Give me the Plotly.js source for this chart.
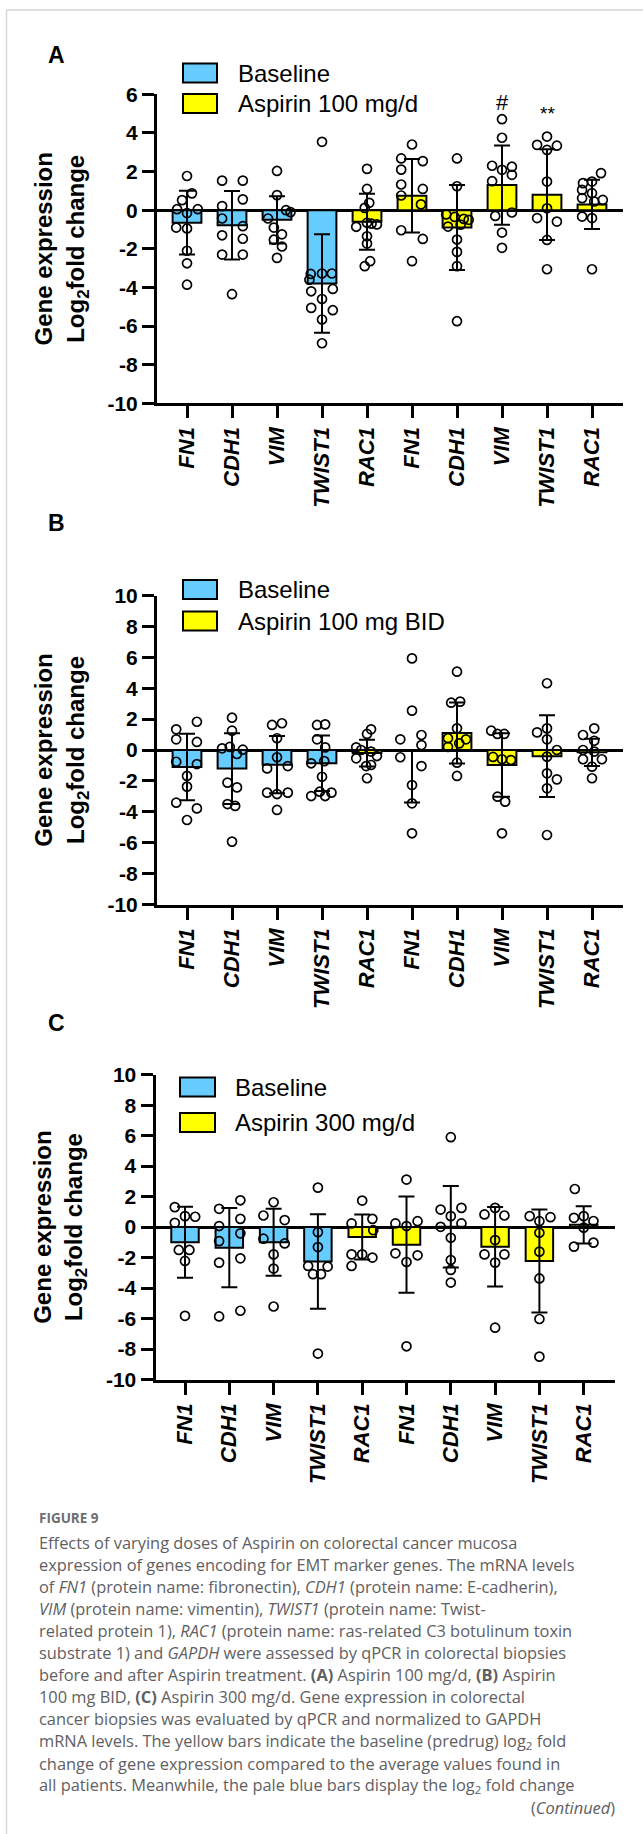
<!DOCTYPE html>
<html>
<head>
<meta charset="utf-8">
<script src="https://cdn.plot.ly/plotly-3.0.1.min.js"></script>
<style>
  html, body { margin: 0; padding: 0; background: #ffffff; }
  #chart { width: 643px; height: 1834px; }
</style>
</head>
<body>
<div id="chart"></div>
<script>
// ---------------- DATA ----------------
const categories = ['FN1', 'CDH1', 'VIM', 'TWIST1', 'RAC1', 'FN1', 'CDH1', 'VIM', 'TWIST1', 'RAC1'];
// colour group shown by each bar in the original figure
const barGroup = ['Baseline', 'Baseline', 'Baseline', 'Baseline', 'Aspirin', 'Aspirin', 'Aspirin', 'Aspirin', 'Aspirin', 'Aspirin'];

const legendA = ['Baseline', 'Aspirin 100 mg/d'];
const legendB = ['Baseline', 'Aspirin 100 mg BID'];
const legendC = ['Baseline', 'Aspirin 300 mg/d'];

const yTicksA = [-10, -8, -6, -4, -2, 0, 2, 4, 6];
const yTicksBC = [-10, -8, -6, -4, -2, 0, 2, 4, 6, 8, 10];

// Panel A: Aspirin 100 mg/d
const meanA = [-0.65, -0.78, -0.5, -3.8, -0.6, 0.75, -0.9, 1.3, 0.8, 0.3];
const errPlusA = [1.65, 1.77, 1.22, 2.55, 1.45, 1.9, 2.2, 2.05, 2.35, 1.28];
const errMinusA = [1.65, 1.77, 1.22, 2.55, 1.45, 1.9, 2.2, 2.05, 2.35, 1.28];
const pointsA = [
  [1.77, 0.87, 0.52, 0.05, -0.15, 0.05, -0.9, -0.95, -2.1, -2.75, -3.86],
  [1.53, 1.53, 0.21, 0.56, -0.43, -0.83, -1.3, -1.48, -2.3, -2.3, -4.35],
  [2.03, 0.78, 0.0, -0.1, -0.43, -0.9, -1.25, -1.53, -1.88, -2.47],
  [3.54, -3.3, -3.28, -3.28, -3.6, -4.2, -4.08, -4.6, -5.06, -5.18, -5.66, -6.89],
  [2.14, 1.1, 0.38, 0.12, -0.65, -0.86, -0.74, -0.7, -1.35, -1.73, -2.64, -2.9],
  [3.4, 2.68, 2.54, 2.1, 1.33, 1.1, 0.76, 0.3, -1.04, -1.49, -2.64],
  [2.68, 1.24, -0.22, -0.35, -0.45, -0.5, -0.85, -0.75, -1.52, -2.16, -2.9, -5.75],
  [4.71, 3.75, 2.3, 2.25, 2.09, 1.83, 1.5, -0.12, -0.3, -1.16, -1.95],
  [3.81, 3.38, 3.34, 3.12, 1.48, 0.1, -0.41, -0.59, -1.54, -3.06],
  [1.92, 1.4, 1.48, 1.05, 0.88, 0.62, 0.53, 0.45, -0.33, -0.41, -3.06]
];
const jitterA = [
  [0, 0.11, -0.11, -0.22, 0, 0.24, -0.24, 0, 0, 0, 0],
  [-0.22, 0.24, -0.22, 0.24, -0.22, 0.24, -0.22, 0.24, -0.22, 0.24, 0],
  [0, 0, 0.2, 0.3, -0.2, -0.07, 0.11, -0.07, 0.11, 0],
  [0, -0.25, 0, 0.22, -0.28, -0.24, 0.24, 0, -0.24, 0.24, 0, 0],
  [0, 0, 0.05, -0.05, 0, -0.24, 0.22, 0.1, 0, 0, 0.07, -0.05],
  [0, -0.24, 0.24, -0.24, -0.24, 0.24, -0.24, 0.2, -0.24, 0.24, 0],
  [0, 0, -0.24, -0.05, 0.15, 0.26, -0.2, 0.08, 0, 0, 0, 0],
  [0, 0, -0.22, 0.22, 0, 0.22, -0.22, 0.22, -0.15, 0, 0],
  [0, -0.22, 0.22, 0, 0, 0, -0.22, 0.22, 0, 0],
  [0.2, -0.2, 0, -0.22, 0, -0.22, 0.24, 0.05, -0.22, 0, 0]
];
const signifA = [{cat: 7, y: 5.6, text: '#'}, {cat: 8, y: 5.0, text: '**'}];

// Panel B: Aspirin 100 mg BID
const meanB = [-1.1, -1.2, -0.95, -0.86, -0.2, -0.05, 1.1, -0.97, -0.4, -0.15];
const errPlusB = [2.15, 2.29, 1.85, 1.8, 0.87, 0, 1.97, 2.05, 2.65, 0.88];
const errMinusB = [2.15, 2.29, 1.85, 1.8, 0.87, 3.35, 1.97, 2.05, 2.65, 0.88];
const pointsB = [
  [1.83, 1.34, 0.69, 0.52, -0.76, -0.91, -1.68, -2.37, -3.41, -3.78, -4.53],
  [2.09, 1.25, 0.11, 0.2, -0.26, 0.02, -2.11, -2.42, -3.5, -3.62, -5.93],
  [1.62, 1.73, 0.76, -0.47, -1.19, -1.04, -2.76, -2.85, -2.76, -3.88],
  [1.62, 1.66, 0.69, 0.17, -0.72, -0.86, -1.73, -2.98, -2.7, -2.98, -2.76],
  [1.34, 1.04, 0.17, 0.0, -0.1, -0.39, -0.54, -0.97, -1.04, -1.83],
  [5.93, 2.55, 0.69, 0.97, 0.32, -0.47, -1.04, -2.27, -3.45, -5.39],
  [5.07, 3.06, 3.13, 1.4, 0.76, 0.43, 0.69, 0.2, -0.82, -1.68],
  [1.25, 1.04, 1.04, -0.45, -0.6, -0.65, -3.02, -3.34, -5.39],
  [4.32, 1.14, 1.4, 0.69, 0.0, -0.43, -1.51, -1.9, -2.48, -5.5],
  [1.4, 0.97, 0.6, 0.0, -0.1, -0.6, -0.6, -1.08, -1.83]
];
const jitterB = [
  [0.22, -0.24, -0.24, 0.22, -0.24, 0.22, 0, 0, -0.24, 0.22, 0],
  [0, 0, -0.22, -0.05, 0.11, 0.24, -0.1, 0.11, -0.1, 0.07, 0],
  [-0.11, 0.11, 0, 0, -0.22, 0.24, -0.22, 0, 0.24, 0],
  [-0.11, 0.07, -0.11, 0.07, 0.05, -0.24, 0, -0.24, -0.05, 0.07, 0.21],
  [0.09, 0, -0.24, -0.13, 0.09, 0.22, -0.24, 0.09, -0.02, 0],
  [0, 0, -0.26, 0.21, 0.21, -0.26, 0.21, 0, 0, 0],
  [0, -0.13, 0.07, 0, -0.2, 0.05, 0.2, -0.2, 0, 0],
  [-0.24, -0.1, 0.05, -0.2, 0, 0.2, -0.1, 0.07, 0],
  [0, -0.22, 0, 0, 0.22, 0, 0, 0.22, 0, 0],
  [0.05, -0.2, 0.05, -0.2, 0.05, -0.2, 0.22, 0, 0]
];

// Panel C: Aspirin 300 mg/d
const meanC = [-1.0, -1.35, -1.0, -2.25, -0.65, -1.15, 0.02, -1.29, -2.22, 0.15];
const errPlusC = [2.33, 2.6, 2.2, 3.1, 1.48, 3.16, 2.67, 2.61, 3.38, 1.22];
const errMinusC = [2.33, 2.6, 2.2, 3.1, 1.48, 3.16, 2.67, 2.61, 3.38, 1.22];
const pointsC = [
  [1.31, 0.28, 0.72, 0.68, -1.5, -1.5, -2.22, -5.82],
  [1.2, 1.76, 0.54, 0.07, -0.41, -0.92, -2.05, -2.33, -5.86, -5.49],
  [1.63, 0.76, 0.46, -0.76, -1.07, -1.79, -2.72, -5.21],
  [2.59, -0.33, -1.31, -2.55, -2.59, -3.09, -3.09, -8.3],
  [1.74, 0.54, 0.24, -0.2, -1.79, -1.79, -2.0, -2.55],
  [3.12, 0.24, 0.07, 0.39, -1.72, -1.85, -2.29, -7.82],
  [5.9, 1.15, 1.26, 0.72, 0.02, 0.24, -0.7, -2.16, -2.81, -3.64],
  [1.26, 0.83, 0.76, -0.85, -1.79, -1.79, -2.33, -6.6],
  [0.72, 0.65, 0.39, -0.37, -1.61, -3.37, -6.03, -8.5],
  [2.5, 0.61, 0.72, 0.4, -0.04, -1.28, -1.02]
];
const jitterC = [
  [-0.23, -0.23, 0, 0.23, -0.14, 0.1, 0, 0],
  [-0.23, 0.25, 0.25, -0.23, 0.25, -0.23, 0.25, -0.23, -0.23, 0.25],
  [0, -0.23, 0.25, -0.23, 0.25, 0, 0, 0],
  [0, 0, 0, -0.22, 0.22, -0.11, 0.07, 0],
  [0, 0.23, -0.24, 0.25, -0.24, 0, 0.23, -0.24],
  [0, -0.25, 0, 0.25, -0.25, 0.25, 0, 0],
  [0, -0.23, 0.24, 0, -0.23, 0.24, 0, 0, 0, 0],
  [0, -0.24, 0.21, 0, -0.24, 0.21, 0, 0],
  [-0.22, 0.25, 0, 0, 0, 0, 0, 0],
  [-0.2, -0.22, 0, 0.22, 0, -0.22, 0.22]
];

const figureLabel = 'FIGURE 9';
const captionLines = [
  'Effects of varying doses of Aspirin on colorectal cancer mucosa',
  'expression of genes encoding for EMT marker genes. The mRNA levels',
  'of <i>FN1</i> (protein name: fibronectin), <i>CDH1</i> (protein name: E-cadherin),',
  '<i>VIM</i> (protein name: vimentin), <i>TWIST1</i> (protein name: Twist-',
  'related protein 1), <i>RAC1</i> (protein name: ras-related C3 botulinum toxin',
  'substrate 1) and <i>GAPDH</i> were assessed by qPCR in colorectal biopsies',
  'before and after Aspirin treatment. <b>(A)</b> Aspirin 100 mg/d, <b>(B)</b> Aspirin',
  '100 mg BID, <b>(C)</b> Aspirin 300 mg/d. Gene expression in colorectal',
  'cancer biopsies was evaluated by qPCR and normalized to GAPDH',
  'mRNA levels. The yellow bars indicate the baseline (predrug) log<sub>2</sub> fold',
  'change of gene expression compared to the average values found in',
  'all patients. Meanwhile, the pale blue bars display the log<sub>2</sub> fold change'
];
const captionEnd = '(<i>Continued</i>)';

// ---------------- STYLE / LAYOUT ----------------
const W = 643, H = 1834;
const px = x => x / W;
const py = y => 1 - y / H;
const FONT = 'Liberation Sans, Arial, Helvetica, sans-serif';
const colors = {Baseline: '#66CCFF', Aspirin: '#FFFF00'};

const panels = [
  {id: 'A', mean: meanA, ep: errPlusA, em: errMinusA, pts: pointsA, jit: jitterA, legend: legendA, yticks: yTicksA,
   yrange: [-10, 6], xpx: [157, 623], ypx: [94.3, 403.3], xr: [-0.667, 9.689], barW: 0.64,
   letter: [56, 55], legBox: [183, 217], legY: [73, 103.5], legTextX: 236},
  {id: 'B', mean: meanB, ep: errPlusB, em: errMinusB, pts: pointsB, jit: jitterB, legend: legendB, yticks: yTicksBC,
   yrange: [-10, 10], xpx: [157, 623], ypx: [595.5, 904.5], xr: [-0.667, 9.689], barW: 0.64,
   letter: [56, 523], legBox: [183, 217], legY: [589.5, 621], legTextX: 236},
  {id: 'C', mean: meanC, ep: errPlusC, em: errMinusC, pts: pointsC, jit: jitterC, legend: legendC, yticks: yTicksBC,
   yrange: [-10, 10], xpx: [155.5, 614.8], ypx: [1074.7, 1379.5], xr: [-0.666, 9.702], barW: 0.62,
   letter: [56, 1023], legBox: [180, 215], legY: [1087, 1122.5], legTextX: 233}
];

const traces = [];
const layout = {
  width: W, height: H,
  margin: {l: 0, r: 0, t: 0, b: 0},
  paper_bgcolor: '#ffffff',
  plot_bgcolor: 'rgba(0,0,0,0)',
  showlegend: false,
  font: {family: FONT, color: '#000000'},
  shapes: [],
  annotations: []
};

// light frame of the figure
layout.shapes.push({type: 'line', xref: 'paper', yref: 'paper', x0: px(6.5), x1: px(643), y0: py(10), y1: py(10),
  line: {color: '#d6d6d6', width: 1.5}});
layout.shapes.push({type: 'line', xref: 'paper', yref: 'paper', x0: px(6.5), x1: px(6.5), y0: py(10), y1: 0,
  line: {color: '#d6d6d6', width: 1.5}});

const idx = categories.map((_, i) => i);

panels.forEach((p, k) => {
  const n = k === 0 ? '' : String(k + 1);
  const xaName = 'xaxis' + n, yaName = 'yaxis' + n;
  const xRef = 'x' + n, yRef = 'y' + n;

  traces.push({
    type: 'bar', x: idx, y: p.mean, width: p.barW, xaxis: xRef, yaxis: yRef,
    marker: {color: barGroup.map(g => colors[g]), line: {color: '#000000', width: 2}},
    error_y: {type: 'data', symmetric: false, array: p.ep, arrayminus: p.em, color: '#000000', thickness: 2, width: 8},
    hoverinfo: 'skip'
  });

  const xs = [], ys = [];
  p.pts.forEach((vals, i) => vals.forEach((v, j) => { xs.push(i + p.jit[i][j]); ys.push(v); }));
  traces.push({
    type: 'scatter', mode: 'markers', x: xs, y: ys, xaxis: xRef, yaxis: yRef,
    marker: {symbol: 'circle-open', size: 9, color: '#000000', line: {color: '#000000', width: 1.7}},
    hoverinfo: 'skip', cliponaxis: false
  });

  layout[xaName] = {
    domain: [px(p.xpx[0]), px(p.xpx[1])], anchor: yRef, range: p.xr,
    tickmode: 'array', tickvals: idx, ticktext: categories, tickangle: -90,
    tickfont: {family: FONT, size: 22, weight: 'bold', style: 'italic', color: '#000000'},
    showline: true, linewidth: 3, linecolor: '#000000',
    ticks: 'outside', ticklen: 12, tickwidth: 3, tickcolor: '#000000',
    showgrid: false, zeroline: false, fixedrange: true
  };
  layout[yaName] = {
    domain: [py(p.ypx[1]), py(p.ypx[0])], anchor: xRef, range: p.yrange,
    tickmode: 'array', tickvals: p.yticks, ticktext: p.yticks.map(v => String(v)),
    tickfont: {family: FONT, size: 21, weight: 'bold', color: '#000000'},
    showline: true, linewidth: 3, linecolor: '#000000',
    ticks: 'outside', ticklen: 12, tickwidth: 3, tickcolor: '#000000',
    showgrid: false, zeroline: true, zerolinewidth: 3, zerolinecolor: '#000000', fixedrange: true,
    title: {text: 'Gene expression<br>Log<sub>2</sub>fold change', font: {family: FONT, size: 24, weight: 'bold', color: '#000000'}, standoff: 17}
  };

  // panel letter
  layout.annotations.push({xref: 'paper', yref: 'paper', x: px(p.letter[0]), y: py(p.letter[1]),
    xanchor: 'center', yanchor: 'middle', showarrow: false, text: '<b>' + p.id + '</b>',
    font: {family: FONT, size: 23, color: '#000000'}});

  // legend (manual)
  p.legend.forEach((label, j) => {
    const cy = p.legY[j];
    layout.shapes.push({type: 'rect', xref: 'paper', yref: 'paper',
      x0: px(p.legBox[0]), x1: px(p.legBox[1]), y0: py(cy - 9.5), y1: py(cy + 9.5),
      fillcolor: j === 0 ? colors.Baseline : colors.Aspirin, line: {color: '#000000', width: 2}});
    layout.annotations.push({xref: 'paper', yref: 'paper', x: px(p.legTextX), y: py(cy),
      xanchor: 'left', yanchor: 'middle', showarrow: false, text: label,
      font: {family: FONT, size: 24, color: '#000000'}});
  });
});

// significance marks (panel A)
signifA.forEach(s => layout.annotations.push({xref: 'x', yref: 'y', x: s.cat, y: s.y, showarrow: false,
  xanchor: 'center', yanchor: 'middle', text: s.text, font: {family: FONT, size: s.text === '#' ? 22 : 19, color: '#000000'}}));

// caption
const capX = 37, capColor = '#5f6062', capTop = 1542, capStep = 22.1;
layout.annotations.push({xref: 'paper', yref: 'paper', x: px(capX), y: py(1518), xanchor: 'left', yanchor: 'middle',
  showarrow: false, text: '<b>' + figureLabel + '</b>', font: {family: 'Open Sans, sans-serif', size: 13.5, color: '#6d6e70'}});
captionLines.forEach((line, i) => layout.annotations.push({xref: 'paper', yref: 'paper', x: px(capX), y: py(capTop + capStep * i),
  xanchor: 'left', yanchor: 'middle', showarrow: false, text: line, font: {family: 'Open Sans, sans-serif', size: 16.4, color: capColor}}));
layout.annotations.push({xref: 'paper', yref: 'paper', x: px(617), y: py(capTop + capStep * captionLines.length),
  xanchor: 'right', yanchor: 'middle', showarrow: false, text: captionEnd, font: {family: 'Open Sans, sans-serif', size: 16.4, color: capColor}});

Plotly.newPlot('chart', traces, layout, {staticPlot: true, displayModeBar: false});
</script>
</body>
</html>
